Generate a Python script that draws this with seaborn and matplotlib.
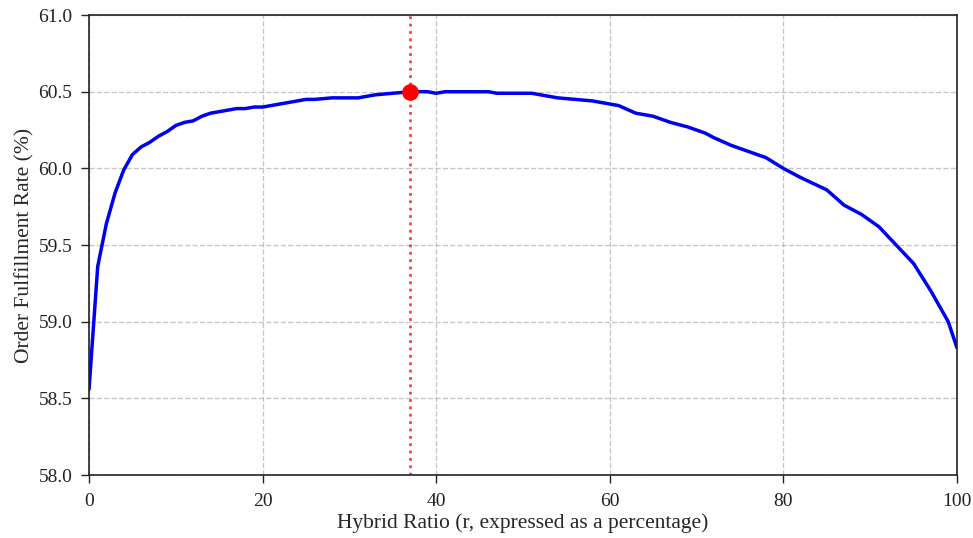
import matplotlib
matplotlib.use("Agg")
import matplotlib.pyplot as plt
import seaborn as sns
import pandas as pd

# Hybrid ratio (%) and order fulfillment rate (%)
hybrid_ratio = [0, 1, 2, 3, 4, 5, 6, 7, 8, 9, 10, 11, 12, 13, 14, 15, 16, 17, 18, 19,
                20, 22, 24, 25, 26, 28, 31, 33, 35, 37, 39, 40, 41, 43, 46, 47, 51,
                54, 56, 58, 60, 61, 63, 65, 67, 69, 71, 72, 74, 76, 78, 80, 82, 85,
                87, 89, 91, 93, 95, 97, 98, 99, 100]
fulfillment = [58.56, 59.36, 59.64, 59.84, 59.99, 60.09, 60.14, 60.17, 60.21, 60.24,
               60.28, 60.30, 60.31, 60.34, 60.36, 60.37, 60.38, 60.39, 60.39, 60.40,
               60.40, 60.42, 60.44, 60.45, 60.45, 60.46, 60.46, 60.48, 60.49, 60.50,
               60.50, 60.49, 60.50, 60.50, 60.50, 60.49, 60.49, 60.46, 60.45, 60.44,
               60.42, 60.41, 60.36, 60.34, 60.30, 60.27, 60.23, 60.20, 60.15, 60.11,
               60.07, 60.00, 59.94, 59.86, 59.76, 59.70, 59.62, 59.50, 59.38, 59.20,
               59.10, 59.00, 58.83]

optimal_ratio = 37
optimal_rate = 60.50

x_ticks = [0, 20, 40, 60, 80, 100]
y_ticks = [58.0, 58.5, 59.0, 59.5, 60.0, 60.5, 61.0]

df = pd.DataFrame({"ratio": hybrid_ratio, "rate": fulfillment})

sns.set_style("white")
plt.rcParams["font.family"] = ["Liberation Serif", "DejaVu Serif"]

fig = plt.figure(figsize=(9.73, 5.38), dpi=100)
ax = fig.add_axes([0.0915, 0.117, 0.892, 0.855])

sns.lineplot(data=df, x="ratio", y="rate", color="#0000f0", linewidth=2.5, ax=ax)

# optimal point marker
ax.axvline(optimal_ratio, color="red", linestyle=":", linewidth=2, alpha=0.75)
ax.plot([optimal_ratio], [optimal_rate], "o", color="red", markersize=11, zorder=5)

ax.set_xlim(0, 100)
ax.set_ylim(58, 61)
ax.set_xticks(x_ticks)
ax.set_yticks(y_ticks)
ax.set_yticklabels([f"{v:.1f}" for v in y_ticks])
ax.grid(True, linestyle="--", color="#b0b0b0", alpha=0.7, linewidth=1)
ax.tick_params(axis="both", labelsize=14, direction="out", length=6, width=1,
               left=True, bottom=True, colors="#222222")
ax.tick_params(axis="y", pad=6)
ax.tick_params(axis="x", pad=7)
for s in ax.spines.values():
    s.set_color("#222222")
    s.set_linewidth(1.2)

ax.set_xlabel("Hybrid Ratio (r, expressed as a percentage)", fontsize=15.5, labelpad=2)
ax.set_ylabel("Order Fulfillment Rate (%)", fontsize=15.5, labelpad=3)

fig.savefig("out.png", dpi=100)
